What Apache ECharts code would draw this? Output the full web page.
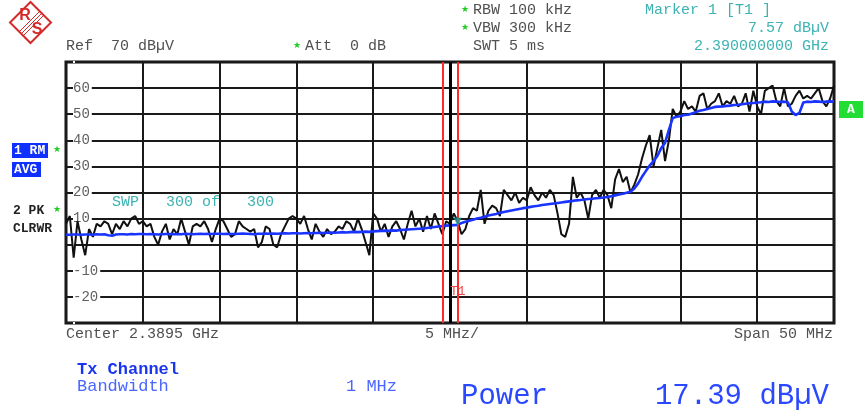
<!DOCTYPE html>
<html>
<head>
<meta charset="utf-8">
<script src="https://cdn.jsdelivr.net/npm/echarts@6/dist/echarts.min.js"></script>
<style>
  html, body { margin: 0; padding: 0; background: #fff; }
  #c { width: 863px; height: 412px; }
</style>
</head>
<body>
<div id="c"></div>
<script>
// Sweep settings: 50 MHz span around 2.3895 GHz, points every 0.25 MHz
const spanMHz = 50;
const stepMHz = 0.25;
const refLevel = 70;
const bottomLevel = -30;
const levelLabels = [60, 50, 40, 30, 20, 10, -10, -20];

// Trace 2: max peak, clear/write (dBuV)
const peakTrace = [
  8, 11, -5, 9, 2, -4, 6, 3, 8, 7, 9, 8, 4, 8, 6, 9, 7, 10, 11, 8,
  9, 7, 8, 3, 0, 5, 8, 2, 6, 4, 10, 5, 0, 7, 8, 7, 9, 6, 1, 6,
  10, 9, 6, 3, 4, 9, 7, 6, 5, 6, -1, 1, 7, 6, 0, -1, 4, 7, 10, 11,
  10, 8, 11, 6, 2, 8, 5, 3, 6, 4, 5, 7, 6, 9, 8, 5, 10, 6, 1, -4,
  12, 10, 5, 8, 3, 7, 9, 6, 2, 8, 13, 7, 10, 5, 11, 6, 12, 8, 4, 9,
  8, 12, 9, 4, 6, 11, 14, 13, 21, 8, 13, 15, 14, 11, 21, 19, 17, 20, 16, 18,
  17, 22, 19, 17, 20, 18, 21, 19, 12, 4, 3, 8, 26, 18, 20, 17, 10, 19, 21, 18,
  21, 19, 14, 25, 29, 24, 26, 20, 23, 27, 33, 38, 42, 30, 37, 44, 32, 40, 52, 49,
  51, 55, 52, 53, 51, 57, 58, 52, 54, 55, 58, 53, 55, 54, 57, 53, 54, 58, 51, 59,
  53, 50, 59, 60, 61, 55, 53, 60, 53, 54, 57, 59, 56, 57, 56, 58, 60, 55, 53, 56, 61
];

// Trace 1: RMS average (dBuV)
const avgTrace = [
  3.8, 3.8, 3.9, 3.9, 3.8, 3.9, 3.9, 3.8, 4.0, 3.9, 4.0, 3.6, 3.4, 3.9, 4.0, 4.0, 3.9, 4.1, 4.0, 4.1,
  4.1, 4.0, 4.1, 4.0, 3.9, 4.0, 4.1, 4.1, 4.0, 4.1, 4.0, 4.2, 4.1, 4.0, 4.1, 4.2, 4.1, 4.2, 4.1, 4.2,
  4.2, 4.1, 4.2, 4.1, 4.1, 4.2, 4.3, 4.2, 4.1, 4.0, 4.2, 4.2, 4.3, 4.2, 4.3, 4.2, 4.3, 4.4, 4.3, 4.4,
  4.4, 4.3, 4.4, 4.5, 4.4, 4.5, 4.6, 4.5, 4.6, 4.7, 4.6, 4.7, 4.8, 4.7, 4.8, 4.9, 4.8, 4.9, 5.0, 4.9,
  5.1, 5.2, 5.3, 5.4, 5.3, 5.5, 5.4, 5.6, 5.7, 5.8, 5.9, 6.0, 6.1, 6.2, 6.4, 6.6, 6.8, 7.0, 7.1, 7.3,
  7.4, 7.5, 7.57, 8.3, 8.8, 9.2, 9.6, 10.0, 10.3, 10.7, 11.2, 11.5, 11.8, 12.2, 12.5, 12.8, 13.1, 13.4, 13.7, 14.0,
  14.2, 14.5, 14.7, 14.9, 15.2, 15.4, 15.6, 15.8, 16.0, 16.2, 16.4, 16.6, 16.8, 17.0, 17.1, 17.3, 17.5, 17.6, 17.8, 17.9,
  18.1, 18.3, 18.6, 18.9, 19.2, 19.5, 19.9, 20.3, 21.5, 23.5, 26.0, 28.2, 30.3, 32.0, 34.0, 37.0, 39.0, 44.0, 48.5, 49.0,
  49.2, 49.7, 49.8, 50.3, 50.8, 51.3, 51.6, 52.0, 52.4, 52.8, 52.9, 53.0, 53.2, 53.3, 53.5, 53.6, 53.8, 54.0, 54.2, 54.3,
  54.5, 54.6, 54.8, 54.7, 54.9, 54.8, 54.7, 54.8, 54.6, 51.0, 49.7, 50.5, 54.5, 54.8, 54.7, 54.9, 54.8, 54.7, 54.8, 54.9, 54.8
];

// Tx channel edges (MHz from sweep start) and marker 1
const channelEdges = [24.5, 25.5];
const markerFreq = 25.5;
const markerLevel = 7.57;

const toPairs = arr => arr.map((v, i) => [i * stepMHz, v]);

const MONO = '"Liberation Mono", "DejaVu Sans Mono", monospace';
const GREY = '#505050';
const TEAL = '#3db3b3';
const BLUE = '#1a34ff';
const STAR = '#22cc22';

function txt(text, x, y, opt) {
  opt = opt || {};
  return {
    type: 'text', silent: true, z: 100,
    style: {
      text: text, x: x, y: y,
      font: (opt.weight || 'normal') + ' ' + (opt.size || 15) + 'px ' + (opt.family || MONO),
      fill: opt.color || GREY,
      textAlign: opt.align || 'left',
      textVerticalAlign: 'middle'
    }
  };
}
function star(x, y) {
  return txt('\u2605', x, y, { size: 9, color: STAR, family: '"DejaVu Sans", sans-serif', align: 'center' });
}

const logoRed = '#d42a2a';
const graphics = [
  // company logo
  { type: 'polygon', silent: true, shape: { points: [[30.5, 2], [51, 22.5], [30.5, 43], [10, 22.5]] },
    style: { fill: 'none', stroke: logoRed, lineWidth: 2 } },
  { type: 'line', silent: true, shape: { x1: 19, y1: 32, x2: 40, y2: 11 }, style: { stroke: logoRed, lineWidth: 1 } },
  { type: 'line', silent: true, shape: { x1: 21, y1: 34, x2: 42, y2: 13 }, style: { stroke: logoRed, lineWidth: 1 } },
  { type: 'line', silent: true, shape: { x1: 23, y1: 36, x2: 44, y2: 15 }, style: { stroke: logoRed, lineWidth: 1 } },
  txt('R', 25, 16, { size: 16, weight: 'bold', color: logoRed, family: '"Liberation Sans", sans-serif', align: 'center' }),
  txt('S', 37, 30, { size: 16, weight: 'bold', color: logoRed, family: '"Liberation Sans", sans-serif', align: 'center' }),

  // header
  star(465, 10), txt('RBW 100 kHz', 473, 10),
  star(465, 28), txt('VBW 300 kHz', 473, 28),
  txt('SWT 5 ms', 473, 46),
  txt('Ref  70 dB\u00b5V', 66, 46),
  star(297, 46), txt('Att  0 dB', 305, 46),
  txt('Marker 1 [T1 ]', 645, 10, { color: TEAL }),
  txt('7.57 dB\u00b5V', 829, 28, { color: TEAL, align: 'right' }),
  txt('2.390000000 GHz', 829, 46, { color: TEAL, align: 'right' }),

  // trace info on the left
  { type: 'rect', silent: true, shape: { x: 12, y: 143, width: 36, height: 15 }, style: { fill: '#1030ff' } },
  txt('1 RM', 14, 151, { size: 13, weight: 'bold', color: '#fff' }),
  star(57, 150),
  { type: 'rect', silent: true, shape: { x: 12, y: 162, width: 29, height: 15 }, style: { fill: '#1030ff' } },
  txt('AVG', 14, 170, { size: 13, weight: 'bold', color: '#fff' }),
  txt('2 PK', 13, 211, { size: 13, weight: 'bold', color: '#222' }),
  star(57, 210),
  txt('CLRWR', 13, 229, { size: 13, weight: 'bold', color: '#222' }),

  // sweep counter
  txt('SWP   300 of   300', 112, 202, { color: TEAL }),

  // annotation flag on the right edge
  { type: 'rect', silent: true, shape: { x: 839, y: 101, width: 24, height: 17 }, style: { fill: '#22dd33' } },
  txt('A', 851, 110, { size: 13, weight: 'bold', color: '#fff', align: 'center' }),

  // frequency axis captions
  txt('Center 2.3895 GHz', 66, 334),
  txt('5 MHz/', 425, 334),
  txt('Span 50 MHz', 833, 334, { align: 'right' }),

  // channel power readout
  txt('Tx Channel', 77, 370, { size: 17, weight: 'bold', color: '#1a35f0' }),
  txt('Bandwidth', 77, 386, { size: 17, color: '#4a66ff' }),
  txt('1 MHz', 346, 386, { size: 17, color: '#4a66ff' }),
  txt('Power', 461, 396, { size: 29, color: '#2a48ff' }),
  txt('17.39 dB\u00b5V', 829, 396, { size: 29, color: '#2a48ff', align: 'right' })
];

const chart = echarts.init(document.getElementById('c'), null, { renderer: 'canvas' });
chart.setOption({
  animation: false,
  backgroundColor: '#fff',
  grid: { left: 66, right: 29, top: 62, bottom: 89, show: true, borderColor: '#111', borderWidth: 3, backgroundColor: 'transparent' },
  xAxis: {
    type: 'value', min: 0, max: spanMHz, interval: spanMHz / 10,
    axisLine: { show: false }, axisTick: { show: false }, axisLabel: { show: false },
    splitLine: { show: true, lineStyle: { color: '#1a1a1a', width: 2 } }
  },
  yAxis: {
    type: 'value', min: bottomLevel, max: refLevel, interval: 10,
    axisLine: { show: false }, axisTick: { show: false },
    splitLine: { show: true, lineStyle: { color: '#1a1a1a', width: 2 } },
    axisLabel: {
      inside: true, margin: 7, align: 'left', verticalAlign: 'middle',
      color: '#606060', fontFamily: MONO, fontSize: 14,
      backgroundColor: '#fff', padding: [1, 2, 1, 0],
      formatter: v => levelLabels.indexOf(v) >= 0 ? String(v) : ''
    }
  },
  graphic: graphics,
  series: [
    {
      name: 'PK CLRWR', type: 'line', data: toPairs(peakTrace), showSymbol: false, z: 3,
      lineStyle: { color: '#111', width: 2 }
    },
    {
      name: 'RM AVG', type: 'line', data: toPairs(avgTrace), showSymbol: false, z: 4,
      lineStyle: { color: BLUE, width: 2.6 },
      markLine: {
        silent: true, symbol: 'none', label: { show: false },
        data: [
          { xAxis: spanMHz / 2, lineStyle: { color: '#000', width: 3, type: 'solid' } },
          { xAxis: channelEdges[0], lineStyle: { color: '#ff2a2a', width: 2, type: 'solid' } },
          { xAxis: channelEdges[1], lineStyle: { color: '#ff2a2a', width: 2, type: 'solid' } }
        ]
      },
      markPoint: {
        silent: true, symbol: 'circle', symbolSize: 0,
        label: { show: true, formatter: 'T1', color: '#f04848', fontFamily: MONO, fontSize: 13 },
        data: [{ coord: [markerFreq, -18] }]
      }
    },
    {
      name: 'Marker 1', type: 'scatter', z: 6,
      data: [[markerFreq, markerLevel]],
      symbol: 'triangle', symbolRotate: 180, symbolSize: [8, 9], symbolOffset: [0, -3],
      itemStyle: { color: '#1a9a8a' }
    }
  ]
});
</script>
</body>
</html>
